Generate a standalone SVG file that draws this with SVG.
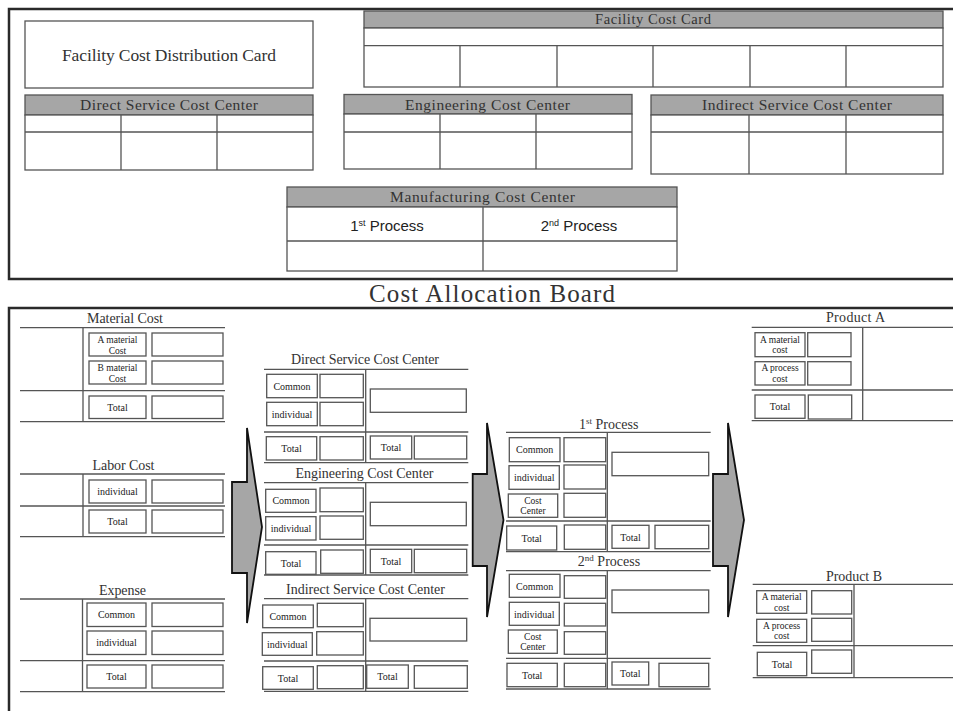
<svg xmlns="http://www.w3.org/2000/svg" width="953" height="711" viewBox="0 0 953 711">
<style>
.frame{fill:none;stroke:#2a2a2a;stroke-width:2.5}
.ln{fill:none;stroke:#555;stroke-width:1.3}
.bx{fill:#fff;stroke:#555;stroke-width:1.3}
.hd{fill:#a6a6a6;stroke:#555;stroke-width:1.3}
.arr{fill:#a6a6a6;stroke:#111;stroke-width:1.8;stroke-linejoin:miter}
.t{font-family:"Liberation Serif","DejaVu Serif",serif;fill:#333;text-anchor:middle}
.s{font-family:"Liberation Sans",Arial,sans-serif;fill:#222;text-anchor:middle;font-size:15px}
.l{font-family:"Liberation Serif","DejaVu Serif",serif;fill:#222;text-anchor:middle;font-size:10px}
.l2{font-family:"Liberation Serif","DejaVu Serif",serif;fill:#222;text-anchor:middle;font-size:9.5px}
</style>
<rect width="953" height="711" fill="#fff"/>

<!-- frames -->
<g id="frames">
<path class="frame" d="M953,9 H9 V279 H953"/>
<path class="frame" d="M953,308 H9 V711"/>
<text class="t" x="492" y="302" font-size="25" textLength="246">Cost Allocation Board</text>
</g>

<!-- ========== top panel ========== -->
<g id="facility-cost-distribution-card">
<rect class="bx" x="25" y="21" width="288" height="67"/>
<text class="t" x="169" y="61" font-size="17.5" textLength="214">Facility Cost Distribution Card</text>
</g>

<g id="top-direct-service">
<rect class="hd" x="25" y="95" width="288" height="20"/>
<text class="t" x="169" y="110" font-size="15.5" textLength="178">Direct Service Cost Center</text>
<rect class="bx" x="25" y="115" width="288" height="55"/>
<path class="ln" d="M25,132 H313 M121,115 V170 M217,115 V170"/>
</g>

<g id="top-facility-cost-card">
<rect class="hd" x="364" y="11" width="579" height="17"/>
<text class="t" x="653" y="24" font-size="14.5" textLength="116">Facility Cost Card</text>
<rect class="bx" x="364" y="28" width="579" height="59"/>
<path class="ln" d="M364,45.7 H943 M460,45.7 V87 M557,45.7 V87 M653,45.7 V87 M750,45.7 V87 M846,45.7 V87"/>
</g>

<g id="top-engineering">
<rect class="hd" x="344" y="94.5" width="288" height="19.5"/>
<text class="t" x="487.5" y="109.5" font-size="15.5" textLength="165">Engineering Cost Center</text>
<rect class="bx" x="344" y="114" width="288" height="55"/>
<path class="ln" d="M344,132 H632 M440,114 V169 M536,114 V169"/>
</g>

<g id="top-indirect-service">
<rect class="hd" x="651" y="95" width="292" height="20"/>
<text class="t" x="797" y="110" font-size="15.5" textLength="190">Indirect Service Cost Center</text>
<rect class="bx" x="651" y="115" width="292" height="59"/>
<path class="ln" d="M651,132 H943 M749,115 V174 M846,115 V174"/>
</g>

<g id="top-manufacturing">
<rect class="hd" x="287" y="187" width="390" height="20"/>
<text class="t" x="482.5" y="201.5" font-size="15.5" textLength="185">Manufacturing Cost Center</text>
<rect class="bx" x="287" y="207" width="390" height="64"/>
<path class="ln" d="M287,241 H677 M483,207 V271"/>
<text class="s" x="387" y="231">1<tspan font-size="9" dy="-5">st</tspan><tspan dy="5"> Process</tspan></text>
<text class="s" x="579" y="231">2<tspan font-size="9" dy="-5">nd</tspan><tspan dy="5"> Process</tspan></text>
</g>

<!-- ========== connectors (arrows) ========== -->
<g id="connectors">
<polygon class="arr" points="232,482 247,482 247,428 262,527 247,623 247,573 232,573"/>
<polygon class="arr" points="472.7,474 487,474 487,423 503.5,520 487,617 487,566 472.7,566"/>
<polygon class="arr" points="713,474 728,474 728,423 744,520 728,617 728,566 713,566"/>
</g>

<!-- ========== left column ========== -->
<g id="material-cost">
<text class="t" x="125" y="323" font-size="14" textLength="76">Material Cost</text>
<path class="ln" d="M20,327.7 H225 M83,327.7 V421.7 M20,390.7 H225 M20,421.7 H225"/>
<rect class="bx" x="89" y="333" width="57" height="23"/>
<rect class="bx" x="152" y="333" width="71" height="23"/>
<rect class="bx" x="89" y="361" width="57" height="23"/>
<rect class="bx" x="152" y="361" width="71" height="23"/>
<rect class="bx" x="89" y="396" width="57" height="22.5"/>
<rect class="bx" x="152" y="396" width="71" height="22.5"/>
<text class="l2" x="117.5" y="343">A  material</text>
<text class="l2" x="117.5" y="353.5">Cost</text>
<text class="l2" x="117.5" y="371">B material</text>
<text class="l2" x="117.5" y="381.5">Cost</text>
<text class="l" x="117.5" y="411">Total</text>
</g>

<g id="labor-cost">
<text class="t" x="123.5" y="470" font-size="14" textLength="62">Labor Cost</text>
<path class="ln" d="M20,474 H225 M83,474 V537 M20,506 H225 M20,536.7 H225"/>
<rect class="bx" x="89" y="480" width="57" height="23"/>
<rect class="bx" x="152" y="480" width="71" height="23"/>
<rect class="bx" x="89" y="510" width="57" height="23"/>
<rect class="bx" x="152" y="510" width="71" height="23"/>
<text class="l" x="117.5" y="495">individual</text>
<text class="l" x="117.5" y="525">Total</text>
</g>

<g id="expense">
<text class="t" x="122.5" y="595" font-size="14" textLength="47">Expense</text>
<path class="ln" d="M20,599 H225 M82.5,599 V692 M20,660.7 H225 M20,691.7 H225"/>
<rect class="bx" x="87" y="603" width="59" height="23.5"/>
<rect class="bx" x="152" y="603" width="71" height="23.5"/>
<rect class="bx" x="87" y="631" width="59" height="23.5"/>
<rect class="bx" x="152" y="631" width="71" height="23.5"/>
<rect class="bx" x="87" y="665" width="59" height="23"/>
<rect class="bx" x="152" y="665" width="71" height="23"/>
<text class="l" x="116.5" y="618">Common</text>
<text class="l" x="116.5" y="646">individual</text>
<text class="l" x="116.5" y="680">Total</text>
</g>

<!-- ========== middle column ========== -->
<g id="direct-service-cost-center">
<text class="t" x="365" y="364" font-size="14" textLength="148">Direct Service Cost Center</text>
<path class="ln" d="M264,369.3 H468.3 M365.7,369.3 V462.7 M264,432 H468.3 M264,462.7 H468.3"/>
<rect class="bx" x="266.7" y="374.3" width="50.6" height="23.4"/>
<rect class="bx" x="320" y="374.3" width="43.3" height="23.4"/>
<rect class="bx" x="266.7" y="402.3" width="50.6" height="23.4"/>
<rect class="bx" x="320" y="402.3" width="43.3" height="23.4"/>
<rect class="bx" x="370.3" y="389" width="96" height="23.3"/>
<rect class="bx" x="266.3" y="436.7" width="50.4" height="23.3"/>
<rect class="bx" x="320" y="436.7" width="43.3" height="23.3"/>
<rect class="bx" x="370.3" y="436" width="41.4" height="23"/>
<rect class="bx" x="414.3" y="436" width="52.4" height="23"/>
<text class="l" x="292" y="389.5">Common</text>
<text class="l" x="292" y="417.5">individual</text>
<text class="l" x="291.5" y="451.8">Total</text>
<text class="l" x="391" y="451">Total</text>
</g>

<g id="engineering-cost-center">
<text class="t" x="364.5" y="478" font-size="14" textLength="138">Engineering Cost Center</text>
<path class="ln" d="M264,482.7 H468.3 M365.7,482.7 V575 M264,545 H468.3 M264,575 H468.3"/>
<rect class="bx" x="265.7" y="489.3" width="50.3" height="23"/>
<rect class="bx" x="320" y="488" width="43.3" height="23.7"/>
<rect class="bx" x="265.7" y="516.7" width="50.3" height="23.3"/>
<rect class="bx" x="320" y="516" width="43.3" height="23.3"/>
<rect class="bx" x="370.3" y="502.3" width="96" height="23.4"/>
<rect class="bx" x="265.7" y="551.7" width="50.3" height="22.6"/>
<rect class="bx" x="320.7" y="550" width="42.6" height="23.3"/>
<rect class="bx" x="370.3" y="549.3" width="41.4" height="23.4"/>
<rect class="bx" x="414.3" y="549.3" width="52.4" height="23.4"/>
<text class="l" x="291" y="504.3">Common</text>
<text class="l" x="291" y="531.8">individual</text>
<text class="l" x="291" y="566.5">Total</text>
<text class="l" x="391" y="564.5">Total</text>
</g>

<g id="indirect-service-cost-center">
<text class="t" x="365.5" y="594" font-size="14" textLength="159">Indirect Service Cost Center</text>
<path class="ln" d="M264,598.7 H468.3 M365.7,598.7 V691.3 M264,661 H468.3 M264,691.3 H468.3"/>
<rect class="bx" x="262.7" y="605" width="50.6" height="22.7"/>
<rect class="bx" x="317.3" y="603.3" width="46" height="23.4"/>
<rect class="bx" x="262.3" y="632.7" width="50" height="22.6"/>
<rect class="bx" x="316.7" y="631.7" width="46.6" height="23.3"/>
<rect class="bx" x="370" y="618.3" width="96.7" height="22.7"/>
<rect class="bx" x="262.7" y="666.7" width="50.6" height="22.6"/>
<rect class="bx" x="317.3" y="665.7" width="46" height="23"/>
<rect class="bx" x="366.7" y="665" width="41.6" height="23.3"/>
<rect class="bx" x="414.3" y="665.7" width="53" height="22.6"/>
<text class="l" x="288" y="619.8">Common</text>
<text class="l" x="287.3" y="647.5">individual</text>
<text class="l" x="288" y="681.5">Total</text>
<text class="l" x="387.5" y="680">Total</text>
</g>

<!-- ========== processes ========== -->
<g id="first-process">
<text class="t" x="608.7" y="429" font-size="14">1<tspan font-size="9" dy="-5">st</tspan><tspan dy="5"> Process</tspan></text>
<path class="ln" d="M506,432.3 H710.7 M607.3,432.3 V551.7 M506,521 H710.7 M506,551.7 H710.7"/>
<rect class="bx" x="509.3" y="437.7" width="50.7" height="24"/>
<rect class="bx" x="564" y="437.7" width="41.7" height="24"/>
<rect class="bx" x="509" y="465.7" width="50.3" height="23.6"/>
<rect class="bx" x="564" y="465" width="41.7" height="24"/>
<rect class="bx" x="508.3" y="494" width="49.4" height="23.3"/>
<rect class="bx" x="564" y="493.3" width="41.7" height="24"/>
<rect class="bx" x="612" y="452.3" width="96.7" height="23.4"/>
<rect class="bx" x="506.7" y="526" width="50" height="24"/>
<rect class="bx" x="564.3" y="525" width="41.4" height="24.3"/>
<rect class="bx" x="612" y="525.3" width="37" height="23"/>
<rect class="bx" x="655" y="525.3" width="53.7" height="23.4"/>
<text class="l" x="534.6" y="453.3">Common</text>
<text class="l" x="534.2" y="481">individual</text>
<text class="l2" x="533" y="503.5">Cost</text>
<text class="l2" x="533" y="514">Center</text>
<text class="l" x="531.7" y="541.5">Total</text>
<text class="l" x="630.5" y="540.5">Total</text>
</g>

<g id="second-process">
<text class="t" x="609" y="566" font-size="14">2<tspan font-size="9" dy="-5">nd</tspan><tspan dy="5"> Process</tspan></text>
<path class="ln" d="M506,570.7 H710.7 M607.3,570.7 V689 M506,658.3 H710.7 M506,689 H710.7"/>
<rect class="bx" x="509.3" y="574.3" width="50.7" height="23"/>
<rect class="bx" x="564.3" y="575.7" width="41.4" height="22.6"/>
<rect class="bx" x="509.3" y="602.3" width="50" height="23"/>
<rect class="bx" x="564.3" y="603.3" width="41.4" height="22.7"/>
<rect class="bx" x="508.3" y="630" width="49" height="23.3"/>
<rect class="bx" x="564.3" y="631.7" width="41.4" height="22.6"/>
<rect class="bx" x="612" y="590" width="96.7" height="22.7"/>
<rect class="bx" x="507" y="663.3" width="50.3" height="23.4"/>
<rect class="bx" x="564.3" y="663.3" width="41.4" height="23.4"/>
<rect class="bx" x="612" y="662" width="36.7" height="23"/>
<rect class="bx" x="659" y="663.3" width="49.7" height="23.4"/>
<text class="l" x="534.6" y="589.5">Common</text>
<text class="l" x="534.3" y="617.5">individual</text>
<text class="l2" x="532.8" y="639.5">Cost</text>
<text class="l2" x="532.8" y="650">Center</text>
<text class="l" x="532.2" y="678.8">Total</text>
<text class="l" x="630.3" y="677">Total</text>
</g>

<!-- ========== products ========== -->
<g id="product-a">
<text class="t" x="855.5" y="322" font-size="14" textLength="59">Product A</text>
<path class="ln" d="M751.7,327.3 H953 M862.7,327.3 V420.7 M751.7,390 H953 M751.7,420.7 H953"/>
<rect class="bx" x="755" y="332.7" width="50" height="24"/>
<rect class="bx" x="807.7" y="332.7" width="43.3" height="24"/>
<rect class="bx" x="755" y="361.7" width="50" height="23.3"/>
<rect class="bx" x="807.7" y="361.7" width="43.3" height="23.3"/>
<rect class="bx" x="755" y="395" width="50" height="23.3"/>
<rect class="bx" x="808.3" y="395" width="43.4" height="24"/>
<text class="l2" x="780" y="342.5">A  material</text>
<text class="l2" x="780" y="353">cost</text>
<text class="l2" x="780" y="371">A process</text>
<text class="l2" x="780" y="381.5">cost</text>
<text class="l" x="780" y="410">Total</text>
</g>

<g id="product-b">
<text class="t" x="854" y="581" font-size="14" textLength="56">Product B</text>
<path class="ln" d="M752.7,584.3 H953 M854,584.3 V677.7 M752.7,645.7 H953 M752.7,677.7 H953"/>
<rect class="bx" x="756.7" y="590.7" width="50" height="22.6"/>
<rect class="bx" x="811.7" y="590.7" width="40" height="23.3"/>
<rect class="bx" x="756.7" y="619.3" width="50" height="23"/>
<rect class="bx" x="811.7" y="618.3" width="40" height="23"/>
<rect class="bx" x="757.3" y="652.3" width="49.4" height="23.4"/>
<rect class="bx" x="811.7" y="650" width="40" height="23.3"/>
<text class="l2" x="781.7" y="600">A  material</text>
<text class="l2" x="781.7" y="610.5">cost</text>
<text class="l2" x="781.7" y="628.5">A process</text>
<text class="l2" x="781.7" y="639">cost</text>
<text class="l" x="782" y="667.5">Total</text>
</g>
</svg>
